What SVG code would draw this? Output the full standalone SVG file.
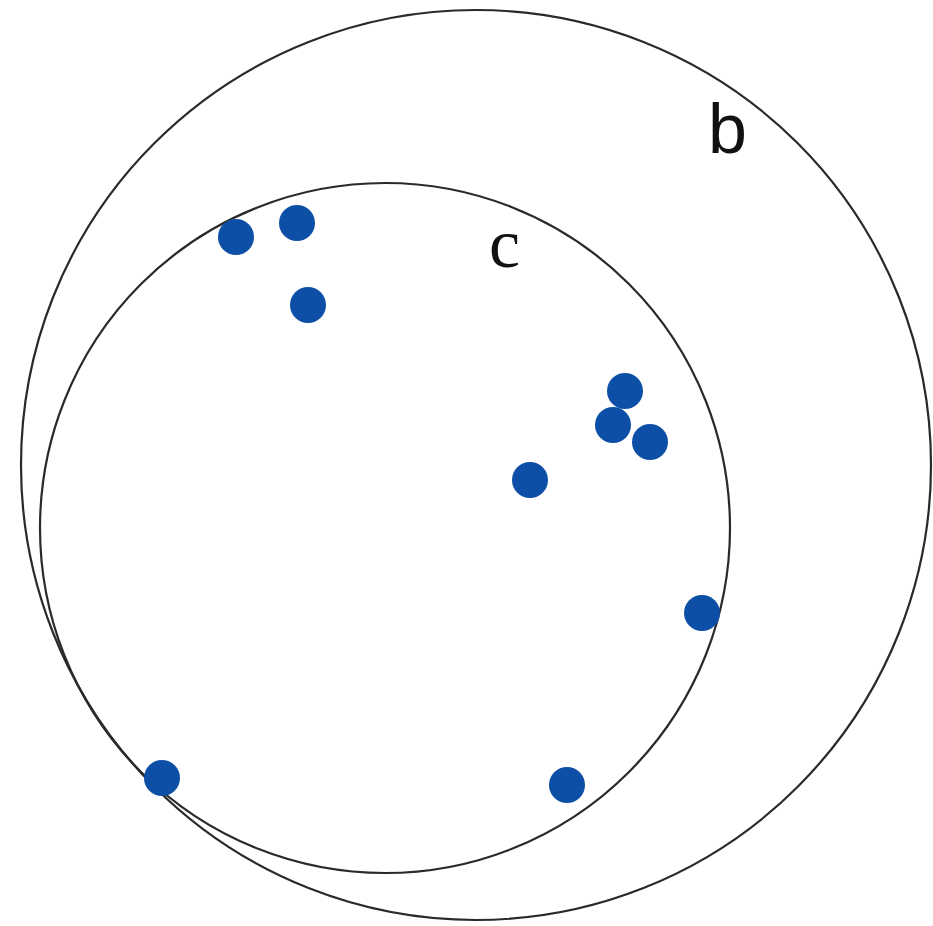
<svg xmlns="http://www.w3.org/2000/svg" width="933" height="926" viewBox="0 0 933 926">
<style>
.set{fill:none;stroke:#2a2a2a;stroke-width:2.2}
.pt{fill:#0d4ea6}
.lbl{fill:#111;font-size:70px}
</style>
<rect width="933" height="926" fill="#ffffff"/>
<g id="set-b">
<circle class="set" cx="476" cy="465" r="455"/>
<text class="lbl" x="708" y="153" font-family="Liberation Sans, Arial, sans-serif">b</text>
</g>
<g id="set-c">
<circle class="set" cx="385" cy="528" r="345"/>
<text class="lbl" x="489" y="267" font-family="Liberation Serif, Times New Roman, serif">c</text>
</g>
<g id="points">
<circle class="pt" cx="236" cy="237" r="18"/>
<circle class="pt" cx="297" cy="223" r="18"/>
<circle class="pt" cx="308" cy="305" r="18"/>
<circle class="pt" cx="625" cy="391" r="18"/>
<circle class="pt" cx="613" cy="425" r="18"/>
<circle class="pt" cx="650" cy="442" r="18"/>
<circle class="pt" cx="530" cy="480" r="18"/>
<circle class="pt" cx="702" cy="613" r="18"/>
<circle class="pt" cx="162" cy="778" r="18"/>
<circle class="pt" cx="567" cy="785" r="18"/>
</g>
</svg>
